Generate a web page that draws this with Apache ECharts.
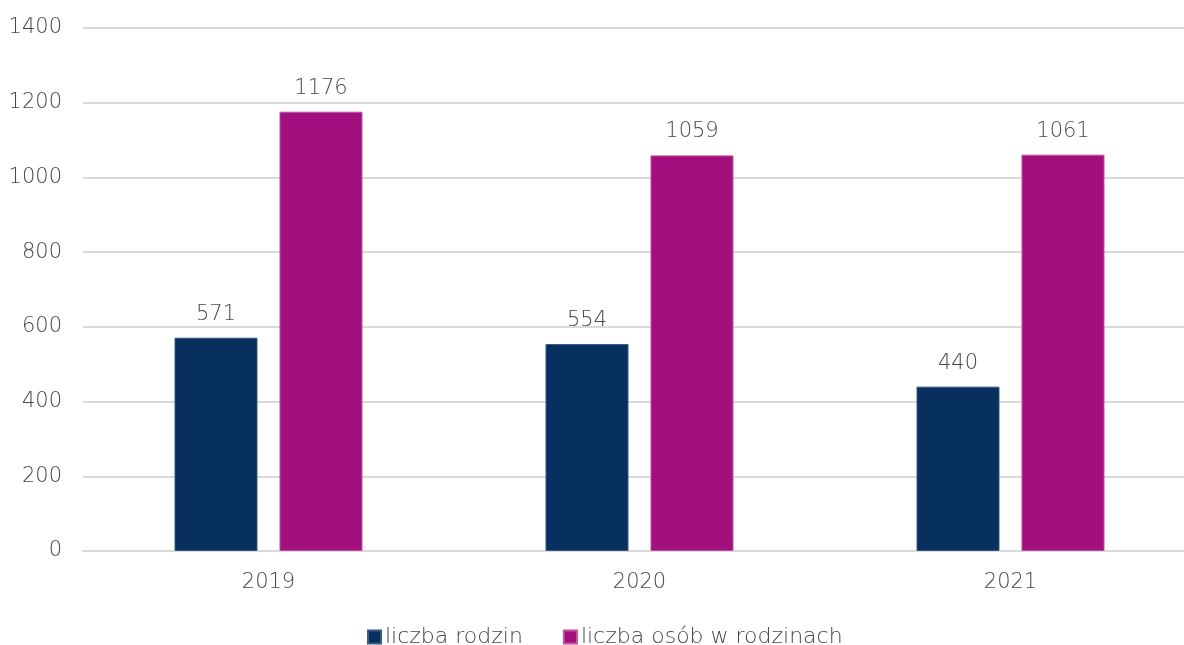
<!DOCTYPE html>
<html><head><meta charset="utf-8">
<script src="https://cdn.jsdelivr.net/npm/echarts@6/dist/echarts.min.js"></script>
<style>html,body{margin:0;padding:0;background:#fff;overflow:hidden}#c{width:1210px;height:645px}</style>
</head><body><div id="c"></div>
<script>
const categories = ['2019', '2020', '2021'];
const rodziny = [571, 554, 440];
const osoby = [1176, 1059, 1061];
const seriesNames = ['liczba rodzin', 'liczba osób w rodzinach'];
const yTicks = { min: 0, max: 1400, interval: 200 };

const font = '"DejaVu Sans", sans-serif';
const txt = '#474747';
const fs = 21;
const fw = 200;
const chart = echarts.init(document.getElementById('c'));
chart.setOption({
  animation: false,
  textStyle: { fontFamily: font },
  grid: { left: 83, top: 28, width: 1113, height: 523, containLabel: false },
  legend: {
    top: 621, left: 362,
    itemWidth: 13, itemHeight: 13, itemGap: 40,
    icon: 'rect',
    textStyle: { fontFamily: font, fontSize: 22, fontWeight: fw, color: txt, padding: [0, 0, 0, -1] },
    data: seriesNames
  },
  xAxis: {
    type: 'category', data: categories,
    axisLine: { lineStyle: { color: '#d9d9d9', width: 2 } },
    axisTick: { show: false },
    axisLabel: { color: txt, fontSize: fs, fontWeight: fw, margin: 21, fontFamily: font }
  },
  yAxis: {
    type: 'value', min: yTicks.min, max: yTicks.max, interval: yTicks.interval,
    axisLine: { show: false }, axisTick: { show: false },
    splitLine: { lineStyle: { color: '#d9d9d9', width: 2 } },
    axisLabel: { color: txt, fontSize: fs, fontWeight: fw, margin: 21, fontFamily: font, formatter: v => String(v) }
  },
  series: [
    { name: seriesNames[0], type: 'bar', data: rodziny, barWidth: 83, barGap: '26.5%',
      itemStyle: { color: '#072F5F', borderColor: '#3a5a80', borderWidth: 1 },
      label: { show: true, position: 'top', distance: 13, color: txt, fontSize: fs, fontWeight: fw, fontFamily: font } },
    { name: seriesNames[1], type: 'bar', data: osoby, barWidth: 83,
      itemStyle: { color: '#A20F7F', borderColor: '#c050a0', borderWidth: 1 },
      label: { show: true, position: 'top', distance: 13, color: txt, fontSize: fs, fontWeight: fw, fontFamily: font } }
  ]
});
</script></body></html>
